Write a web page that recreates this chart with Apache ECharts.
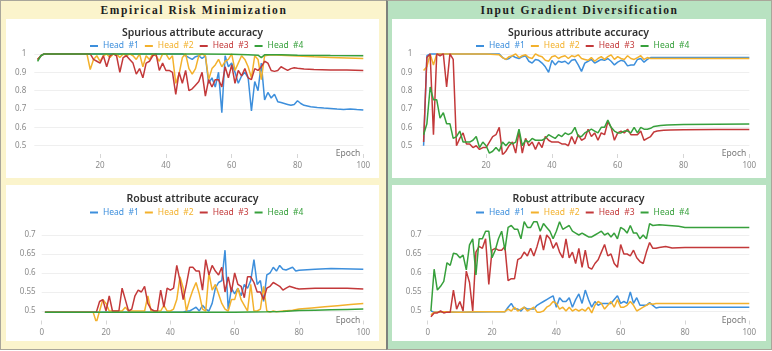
<!DOCTYPE html>
<html>
<head>
<meta charset="utf-8">
<script src="https://cdn.jsdelivr.net/npm/echarts@6/dist/echarts.min.js"></script>
<style>
  html, body { margin: 0; padding: 0; background: #fff; }
  #wrap { position: relative; width: 772px; height: 351px; overflow: hidden; }
  .panel { position: absolute; top: 0; height: 350px; box-sizing: border-box; }
  #pl { left: 0; width: 387px; background: #fbf4cc; border: 1px solid #a9a69a; border-right: none; }
  #pr { left: 386px; width: 386px; background: #b8e2c1; border: 1px solid #a9a69a; border-left: 2px solid #7d827d; }
  .hdr { position: absolute; top: 3px; left: 0; width: 100%; text-align: center;
         font: bold 11.5px "Liberation Serif", serif; letter-spacing: 1.6px; color: #1e1e1e; }
  .box { position: absolute; background: #fff; }
  #chart { position: absolute; left: 0; top: 0; width: 772px; height: 351px; }
</style>
</head>
<body>
<div id="wrap">
  <div class="panel" id="pl"><div class="hdr">Empirical Risk Minimization</div></div>
  <div class="panel" id="pr"><div class="hdr">Input Gradient Diversification</div></div>
  <div class="box" style="left:6px;top:19px;width:373px;height:159px"></div>
  <div class="box" style="left:6px;top:185px;width:373px;height:156px"></div>
  <div class="box" style="left:392px;top:19px;width:374px;height:159px"></div>
  <div class="box" style="left:392px;top:185px;width:374px;height:156px"></div>
  <div id="chart"></div>
</div>
<script>
// [epoch, accuracy]
const heads = ['Head #1', 'Head #2', 'Head #3', 'Head #4']
const colors = ['#3d8fdc', '#f3b12c', '#c3393a', '#37a03c']
const xTicks = [0, 20, 40, 60, 80, 100]

// ERM, spurious attribute
const ermSpH1 = [[1,0.97],[2,0.99],[3,1],[10,1],[20,1],[30,1],[40,1],[45,1],[46,0.99],[47,0.98],[48,0.97],[49,0.985],[50,0.99],[51,0.975],[52,0.99],[53,0.84],[54,0.87],[55,0.82],[56,0.9],[57,0.68],[58,0.99],[59,0.93],[60,0.95],[61,0.9],[62,0.84],[63,0.88],[64,0.9],[65,0.87],[66,0.69],[67,0.85],[68,0.8],[69,0.95],[70,0.75],[71,0.79],[72,0.76],[73,0.78],[74,0.74],[75,0.735],[76,0.73],[77,0.725],[78,0.72],[79,0.725],[80,0.745],[81,0.73],[82,0.72],[84,0.712],[86,0.708],[88,0.705],[90,0.703],[92,0.7],[94,0.698],[96,0.7],[98,0.697],[100,0.695]]
const ermSpH2 = [[1,0.97],[2,0.99],[3,1],[10,1],[16,1],[17,0.915],[18,0.97],[19,0.99],[20,0.96],[21,0.99],[22,1],[23,0.98],[24,1],[25,1],[26,0.98],[27,1],[28,0.99],[29,1],[30,0.99],[31,0.97],[32,1],[33,0.93],[34,0.99],[35,0.97],[36,1],[37,0.99],[38,0.96],[39,1],[40,1],[41,0.97],[42,0.99],[43,0.84],[44,0.89],[45,0.98],[46,1],[47,0.92],[48,0.89],[49,0.92],[50,0.99],[51,1],[52,0.99],[53,0.86],[54,0.92],[55,0.94],[56,0.97],[57,0.93],[58,0.96],[59,0.97],[60,1],[61,0.91],[62,0.95],[63,0.99],[64,0.97],[65,0.93],[66,0.87],[67,0.99],[68,0.97],[69,0.86],[70,0.99],[72,0.995],[75,0.993],[80,0.988],[85,0.984],[90,0.981],[95,0.978],[100,0.975]]
const ermSpH3 = [[1,0.97],[2,0.99],[3,1],[10,1],[17,1],[18,0.97],[19,0.96],[20,0.95],[21,0.99],[22,0.93],[23,0.99],[24,1],[25,0.99],[26,0.9],[27,0.98],[28,0.99],[29,0.97],[30,0.95],[31,0.89],[32,0.92],[33,0.87],[34,0.95],[35,0.96],[36,0.99],[37,1],[38,0.91],[39,0.95],[40,0.91],[41,0.91],[42,0.9],[43,0.78],[44,0.9],[45,0.84],[46,0.91],[47,0.8],[48,0.81],[49,0.83],[50,0.85],[51,0.9],[52,0.77],[53,0.86],[54,0.82],[55,0.86],[56,0.86],[57,0.82],[58,0.93],[59,0.87],[60,0.94],[61,0.84],[62,0.91],[63,0.88],[64,0.92],[65,0.87],[66,0.86],[67,0.92],[68,0.91],[69,0.93],[70,0.96],[71,0.95],[72,0.91],[73,0.905],[74,0.91],[75,0.93],[76,0.92],[77,0.91],[78,0.92],[79,0.925],[80,0.922],[82,0.918],[85,0.915],[90,0.913],[95,0.912],[100,0.91]]
const ermSpH4 = [[1,0.96],[2,0.99],[3,1],[10,1],[20,1],[30,1],[40,1],[50,1],[60,0.998],[65,0.995],[68,0.993],[69,0.98],[70,0.995],[75,0.995],[80,0.993],[90,0.991],[100,0.99]]

// IGD, spurious attribute
const igdSpH1 = [[1,0.5],[2,0.99],[3,1],[10,1],[20,1],[24,1],[25,0.98],[26,0.97],[27,0.975],[28,0.99],[29,0.98],[30,0.975],[31,0.985],[32,0.99],[33,0.96],[34,0.95],[35,0.97],[36,0.965],[37,0.95],[38,0.93],[39,0.9],[40,0.965],[41,0.94],[42,0.96],[43,0.955],[44,0.96],[45,0.945],[46,0.965],[47,0.97],[48,0.94],[49,0.905],[50,0.95],[51,0.96],[52,0.97],[53,0.95],[54,0.96],[55,0.97],[56,0.965],[57,0.975],[58,0.96],[59,0.94],[60,0.955],[61,0.965],[62,0.96],[63,0.935],[64,0.94],[65,0.94],[66,0.97],[67,0.975],[68,0.955],[69,0.97],[70,0.98],[75,0.98],[80,0.98],[90,0.98],[100,0.98]]
const igdSpH2 = [[1,0.91],[2,0.93],[3,1],[4,0.94],[5,1],[10,1],[20,1],[24,0.995],[25,0.98],[26,0.97],[27,0.985],[28,0.99],[29,1],[30,0.98],[31,0.99],[32,0.995],[33,0.98],[34,0.975],[35,1],[36,0.99],[37,0.985],[38,0.965],[39,0.96],[40,0.985],[41,0.99],[42,0.975],[43,0.985],[44,0.99],[45,0.975],[46,0.99],[47,0.985],[48,0.995],[49,0.975],[50,0.97],[51,0.965],[52,0.98],[53,0.96],[54,0.975],[55,0.985],[56,0.97],[57,0.985],[58,0.995],[59,0.97],[60,0.985],[61,0.975],[62,0.97],[63,0.99],[64,0.975],[65,0.97],[66,0.98],[67,0.99],[68,0.97],[69,0.98],[70,0.975],[75,0.975],[80,0.975],[90,0.975],[100,0.975]]
const igdSpH3 = [[1,0.52],[2,0.98],[3,1],[4,0.56],[5,1],[6,0.99],[7,1],[8,0.82],[9,1],[10,0.97],[11,0.5],[12,0.54],[13,0.57],[14,0.51],[15,0.51],[16,0.49],[17,0.5],[18,0.48],[19,0.49],[20,0.49],[21,0.52],[22,0.55],[23,0.56],[24,0.6],[25,0.45],[26,0.47],[27,0.5],[28,0.52],[29,0.46],[30,0.58],[31,0.46],[32,0.54],[33,0.5],[34,0.52],[35,0.48],[36,0.52],[37,0.49],[38,0.55],[39,0.53],[40,0.52],[41,0.52],[42,0.52],[43,0.51],[44,0.51],[45,0.5],[46,0.55],[47,0.51],[48,0.56],[49,0.53],[50,0.54],[51,0.59],[52,0.55],[53,0.57],[54,0.53],[55,0.57],[56,0.56],[57,0.63],[58,0.6],[59,0.53],[60,0.57],[61,0.58],[62,0.57],[63,0.59],[64,0.56],[65,0.56],[66,0.56],[67,0.58],[68,0.53],[69,0.54],[70,0.55],[71,0.575],[72,0.58],[74,0.584],[76,0.586],[80,0.587],[90,0.588],[100,0.588]]
const igdSpH4 = [[1,0.56],[2,0.62],[3,0.82],[4,0.75],[5,0.75],[6,0.65],[7,0.68],[8,0.62],[9,0.62],[10,0.54],[11,0.55],[12,0.58],[13,0.52],[14,0.52],[15,0.52],[16,0.53],[17,0.55],[18,0.49],[19,0.52],[20,0.5],[21,0.46],[22,0.47],[23,0.49],[24,0.47],[25,0.52],[26,0.5],[27,0.52],[28,0.51],[29,0.52],[30,0.59],[31,0.5],[32,0.53],[33,0.52],[34,0.54],[35,0.53],[36,0.53],[37,0.53],[38,0.54],[39,0.56],[40,0.55],[41,0.54],[42,0.56],[43,0.55],[44,0.57],[45,0.56],[46,0.57],[47,0.6],[48,0.55],[49,0.55],[50,0.57],[51,0.58],[52,0.59],[53,0.58],[54,0.57],[55,0.6],[56,0.6],[57,0.64],[58,0.6],[59,0.58],[60,0.57],[61,0.57],[62,0.58],[63,0.58],[64,0.57],[65,0.6],[66,0.57],[67,0.6],[68,0.59],[69,0.59],[70,0.595],[71,0.605],[73,0.61],[75,0.613],[80,0.615],[90,0.617],[100,0.618]]

// ERM, robust attribute
const ermRbH1 = [[1,0.497],[10,0.497],[20,0.497],[30,0.497],[40,0.497],[44,0.497],[45,0.5],[46,0.5],[47,0.505],[48,0.51],[49,0.5],[50,0.515],[51,0.505],[52,0.5],[53,0.52],[54,0.56],[55,0.575],[56,0.58],[57,0.66],[58,0.505],[59,0.56],[60,0.545],[61,0.56],[62,0.54],[63,0.57],[64,0.56],[65,0.58],[66,0.635],[67,0.57],[68,0.58],[69,0.525],[70,0.595],[71,0.6],[72,0.615],[73,0.605],[74,0.62],[75,0.61],[76,0.608],[78,0.615],[79,0.605],[80,0.607],[85,0.61],[90,0.612],[100,0.61]]
const ermRbH2 = [[1,0.497],[10,0.497],[16,0.497],[17,0.47],[18,0.5],[19,0.53],[20,0.52],[21,0.5],[22,0.5],[25,0.5],[26,0.51],[27,0.5],[30,0.5],[32,0.5],[33,0.54],[34,0.5],[36,0.5],[37,0.5],[38,0.515],[39,0.5],[40,0.5],[41,0.505],[42,0.53],[43,0.59],[44,0.56],[45,0.5],[46,0.53],[47,0.555],[48,0.575],[49,0.545],[50,0.505],[51,0.5],[52,0.6],[53,0.555],[54,0.57],[55,0.545],[56,0.52],[57,0.505],[58,0.5],[59,0.53],[60,0.53],[61,0.56],[62,0.53],[63,0.515],[64,0.5],[65,0.57],[66,0.5],[67,0.5],[68,0.505],[69,0.565],[70,0.5],[71,0.497],[72,0.5],[73,0.498],[75,0.5],[78,0.502],[80,0.505],[84,0.508],[88,0.511],[92,0.514],[96,0.517],[100,0.52]]
const ermRbH3 = [[1,0.497],[10,0.497],[17,0.497],[18,0.525],[19,0.53],[20,0.5],[21,0.54],[22,0.5],[23,0.5],[24,0.5],[25,0.56],[26,0.53],[27,0.5],[28,0.505],[29,0.54],[30,0.555],[31,0.55],[32,0.565],[33,0.52],[34,0.505],[35,0.5],[36,0.5],[37,0.555],[38,0.51],[39,0.56],[40,0.555],[41,0.56],[42,0.62],[43,0.58],[44,0.53],[45,0.57],[46,0.615],[47,0.615],[48,0.605],[49,0.605],[50,0.555],[51,0.635],[52,0.595],[53,0.62],[54,0.605],[55,0.595],[56,0.615],[57,0.55],[58,0.59],[59,0.55],[60,0.6],[61,0.57],[62,0.565],[63,0.535],[64,0.59],[65,0.59],[66,0.575],[67,0.55],[68,0.55],[69,0.53],[70,0.56],[71,0.565],[72,0.575],[73,0.57],[74,0.565],[75,0.555],[76,0.56],[77,0.565],[79,0.56],[80,0.558],[85,0.56],[90,0.56],[95,0.56],[100,0.558]]
const ermRbH4 = [[1,0.497],[10,0.497],[20,0.497],[30,0.497],[40,0.497],[50,0.497],[60,0.497],[70,0.498],[75,0.499],[80,0.501],[85,0.502],[90,0.503],[95,0.504],[100,0.505]]

// IGD, robust attribute
const igdRbH1 = [[1,0.5],[2,0.497],[10,0.497],[20,0.498],[24,0.498],[25,0.51],[26,0.52],[27,0.505],[28,0.505],[29,0.5],[30,0.51],[31,0.505],[32,0.505],[33,0.505],[34,0.515],[35,0.52],[36,0.525],[37,0.53],[38,0.535],[39,0.54],[40,0.51],[41,0.535],[42,0.525],[43,0.525],[44,0.535],[45,0.51],[46,0.53],[47,0.545],[48,0.52],[49,0.555],[50,0.53],[51,0.51],[52,0.525],[53,0.515],[54,0.52],[55,0.52],[56,0.52],[57,0.52],[58,0.53],[59,0.54],[60,0.52],[61,0.525],[62,0.52],[63,0.55],[64,0.52],[65,0.535],[66,0.515],[67,0.515],[68,0.515],[69,0.522],[70,0.515],[71,0.508],[72,0.51],[75,0.51],[80,0.51],[90,0.51],[100,0.51]]
const igdRbH2 = [[1,0.49],[2,0.497],[5,0.498],[10,0.497],[15,0.498],[20,0.498],[24,0.498],[25,0.505],[26,0.5],[27,0.51],[28,0.5],[29,0.505],[30,0.51],[31,0.5],[32,0.505],[33,0.51],[34,0.497],[35,0.497],[36,0.5],[37,0.51],[38,0.515],[39,0.525],[40,0.52],[41,0.505],[42,0.51],[43,0.5],[44,0.51],[45,0.5],[46,0.505],[47,0.5],[48,0.505],[49,0.5],[50,0.51],[51,0.495],[52,0.515],[53,0.525],[54,0.52],[55,0.505],[56,0.515],[57,0.525],[58,0.51],[59,0.53],[60,0.51],[61,0.51],[62,0.515],[63,0.525],[64,0.515],[65,0.5],[66,0.505],[67,0.51],[68,0.515],[69,0.52],[70,0.518],[71,0.52],[75,0.52],[80,0.52],[90,0.52],[100,0.52]]
const igdRbH3 = [[1,0.485],[2,0.495],[3,0.495],[4,0.5],[5,0.495],[6,0.497],[7,0.497],[8,0.555],[9,0.505],[10,0.525],[11,0.5],[12,0.605],[13,0.575],[14,0.5],[15,0.655],[16,0.67],[17,0.665],[18,0.69],[19,0.57],[20,0.66],[21,0.665],[22,0.66],[23,0.66],[24,0.67],[25,0.58],[26,0.585],[27,0.585],[28,0.635],[29,0.64],[30,0.655],[31,0.645],[32,0.665],[33,0.645],[34,0.67],[35,0.7],[36,0.66],[37,0.7],[38,0.69],[39,0.665],[40,0.68],[41,0.655],[42,0.64],[43,0.69],[44,0.64],[45,0.655],[46,0.625],[47,0.665],[48,0.615],[49,0.66],[50,0.615],[51,0.61],[52,0.625],[53,0.635],[54,0.655],[55,0.675],[56,0.645],[57,0.65],[58,0.625],[59,0.615],[60,0.675],[61,0.65],[62,0.65],[63,0.645],[64,0.66],[65,0.64],[66,0.63],[67,0.625],[68,0.655],[69,0.68],[70,0.665],[71,0.665],[72,0.667],[74,0.67],[76,0.666],[80,0.667],[90,0.667],[100,0.667]]
const igdRbH4 = [[1,0.5],[2,0.61],[3,0.555],[4,0.565],[5,0.578],[6,0.627],[7,0.62],[8,0.652],[9,0.65],[10,0.64],[11,0.647],[12,0.608],[13,0.674],[14,0.69],[15,0.595],[16,0.69],[17,0.69],[18,0.71],[19,0.71],[20,0.64],[21,0.66],[22,0.69],[23,0.71],[24,0.66],[25,0.72],[26,0.725],[27,0.715],[28,0.715],[29,0.69],[30,0.735],[31,0.72],[32,0.72],[33,0.735],[34,0.735],[35,0.71],[36,0.73],[37,0.72],[38,0.71],[39,0.69],[40,0.71],[41,0.735],[42,0.715],[43,0.72],[44,0.725],[45,0.71],[46,0.705],[47,0.7],[48,0.705],[49,0.7],[50,0.695],[51,0.695],[52,0.7],[53,0.705],[54,0.71],[55,0.7],[56,0.705],[57,0.695],[58,0.705],[59,0.69],[60,0.72],[61,0.715],[62,0.705],[63,0.725],[64,0.705],[65,0.705],[66,0.69],[67,0.7],[68,0.69],[69,0.73],[70,0.725],[72,0.727],[75,0.725],[78,0.723],[80,0.72],[90,0.72],[100,0.72]]

const panels = [
  { title: 'Spurious attribute accuracy', cx: 192.5, titleTop: 27.5, legendLeft: 90, legendTop: 41.5,
    grid: { left: 34.3, right: 408.7, top: 53, bottom: 197 }, yMin: 0.455, yMax: 1.005, step: 0.1,
    hideZero: true, labelMargin: 8, data: [ermSpH1, ermSpH2, ermSpH3, ermSpH4] },
  { title: 'Spurious attribute accuracy', cx: 578.5, titleTop: 27.5, legendLeft: 476, legendTop: 41.5,
    grid: { left: 420.3, right: 22.7, top: 53, bottom: 197 }, yMin: 0.455, yMax: 1.005, step: 0.1,
    hideZero: true, labelMargin: 8, data: [igdSpH1, igdSpH2, igdSpH3, igdSpH4] },
  { title: 'Robust attribute accuracy', cx: 192.5, titleTop: 193.5, legendLeft: 90, legendTop: 208,
    grid: { left: 41.7, right: 408.7, top: 235, bottom: 30.5 }, yMin: 0.475, yMax: 0.7, step: 0.05,
    hideZero: false, labelMargin: 6, data: [ermRbH1, ermRbH2, ermRbH3, ermRbH4] },
  { title: 'Robust attribute accuracy', cx: 578.5, titleTop: 193.5, legendLeft: 476, legendTop: 208,
    grid: { left: 427.7, right: 22.7, top: 219.8, bottom: 30.5 }, yMin: 0.475, yMax: 0.74, step: 0.05,
    hideZero: false, labelMargin: 6, data: [igdRbH1, igdRbH2, igdRbH3, igdRbH4] }
]

const font = '"Noto Sans", sans-serif'
const option = {
  animation: false,
  title: [], legend: [], grid: [], xAxis: [], yAxis: [], series: []
}

panels.forEach((p, i) => {
  option.title.push({
    text: p.title, left: p.cx, top: p.titleTop, textAlign: 'center', padding: 0,
    textStyle: { fontFamily: font, fontSize: 10.5, fontWeight: 600, color: '#333' }
  })
  option.legend.push({
    left: p.legendLeft, top: p.legendTop, padding: 0, itemGap: 6,
    itemWidth: 8, itemHeight: 2, icon: 'rect', selectedMode: false,
    formatter: n => n.replace(' ', '  '),
    data: heads.map((h, k) => ({ name: h, textStyle: { color: colors[k], fontFamily: font, fontSize: 8.5 } }))
  })
  option.grid.push(p.grid)
  option.xAxis.push({
    type: 'value', gridIndex: i, min: xTicks[0], max: xTicks[xTicks.length - 1], interval: 20,
    axisLine: { show: false },
    axisTick: { show: true, length: 4, lineStyle: { color: '#d6d6d6' } },
    axisLabel: { fontFamily: font, fontSize: 8, color: '#8a8a8a', margin: 8, showMinLabel: !p.hideZero },
    splitLine: { show: false },
    name: 'Epoch', nameLocation: 'end', nameGap: -3,
    nameTextStyle: { fontFamily: font, fontSize: 8.5, color: '#777', align: 'right', verticalAlign: 'middle', padding: [0, 0, 7, 0] }
  })
  option.yAxis.push({
    type: 'value', gridIndex: i, min: p.yMin, max: p.yMax,
    minInterval: p.step, maxInterval: p.step,
    axisLine: { show: false }, axisTick: { show: false },
    axisLabel: { fontFamily: font, fontSize: 8, color: '#8a8a8a', margin: p.labelMargin,
                 showMinLabel: false, showMaxLabel: p.yMax === 0.7 },
    splitLine: { show: true, showMinLine: false, showMaxLine: p.yMax === 0.7, lineStyle: { color: '#efefef' } }
  })
  p.data.forEach((d, k) => {
    option.series.push({
      name: heads[k], type: 'line', xAxisIndex: i, yAxisIndex: i, data: d,
      showSymbol: false, symbol: 'none', color: colors[k],
      lineStyle: { width: 1.5, color: colors[k] }
    })
  })
})

const chart = echarts.init(document.getElementById('chart'), null, { renderer: 'canvas' })
chart.setOption(option)
</script>
</body>
</html>
